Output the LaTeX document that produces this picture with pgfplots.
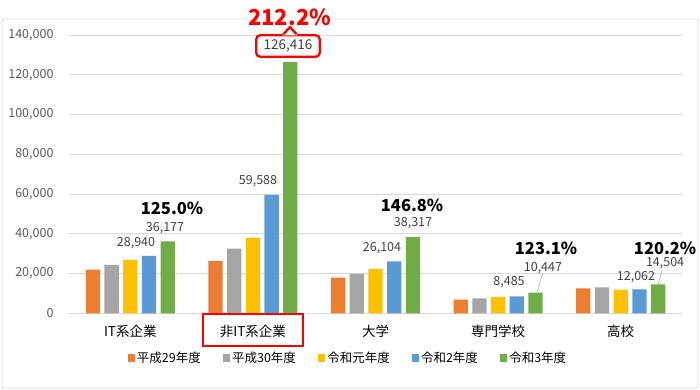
\documentclass[border=0pt]{standalone}
\usepackage{pgfplots}
\pgfplotsset{compat=1.18}
\usepackage{fontspec}
\setmainfont{Noto Sans CJK JP}
\definecolor{cOr}{HTML}{ED7D31}
\definecolor{cGr}{HTML}{A5A5A5}
\definecolor{cYe}{HTML}{FFC000}
\definecolor{cBl}{HTML}{5B9BD5}
\definecolor{cGn}{HTML}{70AD47}
\definecolor{gridc}{HTML}{D9D9D9}
\definecolor{tickc}{HTML}{595959}
\definecolor{labc}{HTML}{404040}
\begin{document}
\begin{tikzpicture}[x=1pt,y=1pt]
\path[use as bounding box] (0,0) rectangle (700,389);
\draw[gridc, line width=0.8pt, rounded corners=2pt] (2,1) rectangle (698,370);
\begin{axis}[
  at={(69pt,75.7pt)}, anchor=south west,
  scale only axis, width=613pt, height=278.3pt,
  xmin=-0.5, xmax=4.5, ymin=0, ymax=140000,
  ybar=4.4pt, bar width=14.3pt,
  axis lines*=left,
  y axis line style={draw=none},
  x axis line style={draw=gridc, line width=0.8pt},
  major tick length=0pt,
  ymajorgrids, grid style={gridc, line width=0.8pt},
  ytick={0,20000,...,140000},
  scaled y ticks=false,
  yticklabel style={/pgf/number format/.cd, fixed, 1000 sep={,}, assume math mode=true, /tikz/.cd, font=\fontsize{12.5}{14}\selectfont, text=tickc, xshift=-12pt},
  xtick={0,1,2,3,4},
  xticklabels={IT系企業,非IT系企業,大学,専門学校,高校},
  xticklabel style={font=\fontsize{13.5}{15}\selectfont, text=black, anchor=center, yshift=-18.4pt},
  clip=false,
  legend style={at={(0.455,-0.1606)}, anchor=center, draw=none, fill=none,
    font=\fontsize{12.5}{14}\selectfont, text=black,
    /tikz/every even column/.append style={column sep=20pt}},
  legend columns=-1,
  legend image code/.code={\fill[#1] (0pt,-3.6pt) rectangle (7.3pt,3.6pt);},
]
\addplot[fill=cOr, draw=none] coordinates {(0,22000) (1,26200) (2,18000) (3,6870) (4,12600)};
\addplot[fill=cGr, draw=none] coordinates {(0,24400) (1,32600) (2,19850) (3,7570) (4,13100)};
\addplot[fill=cYe, draw=none] coordinates {(0,26900) (1,38000) (2,22400) (3,8080) (4,11900)};
\addplot[fill=cBl, draw=none] coordinates {(0,28940) (1,59588) (2,26104) (3,8485) (4,12062)};
\addplot[fill=cGn, draw=none] coordinates {(0,36177) (1,126416) (2,38317) (3,10447) (4,14504)};
\legend{平成29年度,平成30年度,令和元年度,令和2年度,令和3年度}
% data labels
\begin{scope}[every node/.style={font=\fontsize{12.5}{14}\selectfont, text=labc, inner sep=1pt}]
\node at (axis cs:0.0465,35366) {28,940};
\node at (axis cs:0.283,42910) {36,177};
\node at (axis cs:1.0416,66553) {59,588};
\node at (axis cs:2.053,32849) {26,104};
\node at (axis cs:2.306,45425) {38,317};
\node at (axis cs:3.089,15745) {8,485};
\node at (axis cs:3.366,22788) {10,447};
\node at (axis cs:4.125,18261) {12,062};
\node at (axis cs:4.362,25303) {14,504};
\end{scope}
\draw[gray!70, line width=0.6pt] (axis cs:3.364,20122) -- (axis cs:3.320,10866);
\draw[gray!70, line width=0.6pt] (axis cs:4.3376,21782) -- (axis cs:4.3067,14739);
% percentages
\begin{scope}[every node/.style={font=\fontsize{16.5}{18}\selectfont\bfseries, text=black, inner sep=1pt}]
\node at (axis cs:0.340,52971) {125.0\%};
\node at (axis cs:2.298,54480) {146.8\%};
\node at (axis cs:3.391,32849) {123.1\%};
\node at (axis cs:4.362,32849) {120.2\%};
\end{scope}
% callout
\node[draw=red, line width=2.3pt, rounded corners=4pt, fill=white, minimum width=63.5pt, minimum height=21.5pt, inner sep=2pt, font=\fontsize{13.5}{15}\selectfont, text=labc] (bx) at (axis cs:1.286,134466) {126,416};
\fill[white] ([xshift=-5.5pt,yshift=-1.3pt]bx.north) -- ([xshift=2pt,yshift=7pt]bx.north) -- ([xshift=9.5pt,yshift=-1.3pt]bx.north) -- cycle;
\draw[red, line width=2.3pt, line join=round] ([xshift=-4.5pt]bx.north) -- ([xshift=2pt,yshift=7pt]bx.north) -- ([xshift=8.5pt]bx.north);
\node[font=\fontsize{22}{24}\selectfont\bfseries, text=red, inner sep=0pt, fill=white] at (axis cs:1.30,149052) {212.2\%};
\end{axis}
\draw[red, line width=2.3pt] (202.7,43.3) rectangle (303.3,74.7);
\end{tikzpicture}
\end{document}
